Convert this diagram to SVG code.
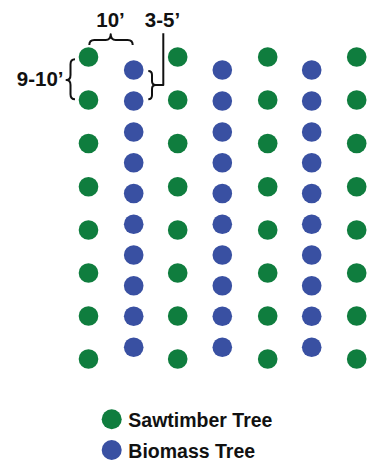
<svg xmlns="http://www.w3.org/2000/svg" width="370" height="461" viewBox="0 0 370 461">
<style>
.s{fill:#0f7d3e}
.b{fill:#3950a2}
.lbl{font-family:"Liberation Sans",Arial,sans-serif;font-weight:bold;font-size:19.5px;fill:#111}
.dim{font-size:20.5px}
.br{fill:none;stroke:#111;stroke-width:2;stroke-linejoin:round;stroke-linecap:butt}
</style>
<rect width="370" height="461" fill="#fff"/>
<defs>
<circle id="c" r="9.8"/>
</defs>
<g id="sawtimber">
<g id="s-col1">
<use href="#c" class="s" x="88.5" y="57"/><use href="#c" class="s" x="88.5" y="100"/><use href="#c" class="s" x="88.5" y="143.5"/><use href="#c" class="s" x="88.5" y="186.7"/><use href="#c" class="s" x="88.5" y="230"/><use href="#c" class="s" x="88.5" y="273"/><use href="#c" class="s" x="88.5" y="316"/><use href="#c" class="s" x="88.5" y="359"/>
</g>
<g id="s-col3">
<use href="#c" class="s" x="177.7" y="57"/><use href="#c" class="s" x="177.7" y="100"/><use href="#c" class="s" x="177.7" y="143.5"/><use href="#c" class="s" x="177.7" y="186.7"/><use href="#c" class="s" x="177.7" y="230"/><use href="#c" class="s" x="177.7" y="273"/><use href="#c" class="s" x="177.7" y="316"/><use href="#c" class="s" x="177.7" y="359"/>
</g>
<g id="s-col5">
<use href="#c" class="s" x="267.7" y="57"/><use href="#c" class="s" x="267.7" y="100"/><use href="#c" class="s" x="267.7" y="143.5"/><use href="#c" class="s" x="267.7" y="186.7"/><use href="#c" class="s" x="267.7" y="230"/><use href="#c" class="s" x="267.7" y="273"/><use href="#c" class="s" x="267.7" y="316"/><use href="#c" class="s" x="267.7" y="359"/>
</g>
<g id="s-col7">
<use href="#c" class="s" x="356.7" y="57"/><use href="#c" class="s" x="356.7" y="100"/><use href="#c" class="s" x="356.7" y="143.5"/><use href="#c" class="s" x="356.7" y="186.7"/><use href="#c" class="s" x="356.7" y="230"/><use href="#c" class="s" x="356.7" y="273"/><use href="#c" class="s" x="356.7" y="316"/><use href="#c" class="s" x="356.7" y="359"/>
</g>
</g>
<g id="biomass">
<g id="b-col2">
<use href="#c" class="b" x="133.7" y="70"/><use href="#c" class="b" x="133.7" y="101"/><use href="#c" class="b" x="133.7" y="132"/><use href="#c" class="b" x="133.7" y="162.7"/><use href="#c" class="b" x="133.7" y="193.5"/><use href="#c" class="b" x="133.7" y="224.3"/><use href="#c" class="b" x="133.7" y="255"/><use href="#c" class="b" x="133.7" y="285.7"/><use href="#c" class="b" x="133.7" y="316.3"/><use href="#c" class="b" x="133.7" y="347.3"/>
</g>
<g id="b-col4">
<use href="#c" class="b" x="222.3" y="70"/><use href="#c" class="b" x="222.3" y="101"/><use href="#c" class="b" x="222.3" y="132"/><use href="#c" class="b" x="222.3" y="162.7"/><use href="#c" class="b" x="222.3" y="193.5"/><use href="#c" class="b" x="222.3" y="224.3"/><use href="#c" class="b" x="222.3" y="255"/><use href="#c" class="b" x="222.3" y="285.7"/><use href="#c" class="b" x="222.3" y="316.3"/><use href="#c" class="b" x="222.3" y="347.3"/>
</g>
<g id="b-col6">
<use href="#c" class="b" x="311.7" y="70"/><use href="#c" class="b" x="311.7" y="101"/><use href="#c" class="b" x="311.7" y="132"/><use href="#c" class="b" x="311.7" y="162.7"/><use href="#c" class="b" x="311.7" y="193.5"/><use href="#c" class="b" x="311.7" y="224.3"/><use href="#c" class="b" x="311.7" y="255"/><use href="#c" class="b" x="311.7" y="285.7"/><use href="#c" class="b" x="311.7" y="316.3"/><use href="#c" class="b" x="311.7" y="347.3"/>
</g>
</g>
<g id="dimensions">
<path class="br" d="M89.3,45 Q89.3,40 94.3,40 L105.7,40 Q110.7,40 110.7,34.3 Q110.7,40 115.7,40 L127.7,40 Q132.7,40 132.7,45"/>
<path class="br" d="M75,59.3 Q70.5,59.3 70.5,64.3 L70.5,75 Q70.5,80 66.5,80 Q70.5,80 70.5,85 L70.5,94.3 Q70.5,99.3 75,99.3"/>
<path class="br" d="M148.3,71 Q152,71 152,75 L152,81 Q152,85 155.7,85 Q152,85 152,89 L152,95.3 Q152,99.3 148.3,99.3"/>
<path class="br" d="M155.7,85 L163.3,85 L163.3,33.3"/>
<text class="lbl dim" x="110.5" y="26.5" text-anchor="middle">10’</text>
<text class="lbl dim" x="162.5" y="26.5" text-anchor="middle">3-5’</text>
<text class="lbl dim" x="63.5" y="86.3" text-anchor="end">9-10’</text>
</g>
<g id="legend">
<circle class="s" cx="111.7" cy="419.3" r="10"/>
<circle class="b" cx="111.7" cy="450" r="10"/>
<text class="lbl" x="128.3" y="426.7">Sawtimber Tree</text>
<text class="lbl" x="128.3" y="457.5">Biomass Tree</text>
</g>
</svg>
